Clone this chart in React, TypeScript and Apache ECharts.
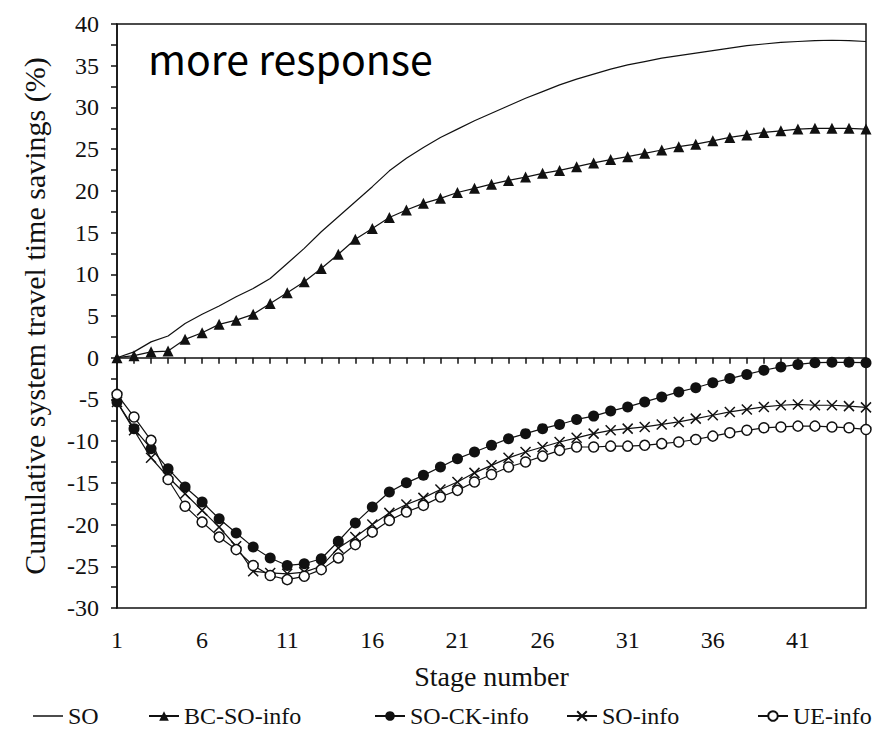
import React, { useEffect, useRef } from "react";
import * as echarts from "echarts";

const stages = Array.from({ length: 45 }, (_, i) => String(i + 1));

const soValues = [
  0, 0.7, 1.9, 2.6, 4.1, 5.2, 6.2, 7.3, 8.3, 9.5,
  11.3, 13.1, 15.1, 16.9, 18.7, 20.5, 22.4, 23.9, 25.2, 26.4,
  27.4, 28.4, 29.3, 30.2, 31.1, 31.9, 32.7, 33.4, 34.0, 34.6,
  35.1, 35.5, 35.9, 36.2, 36.5, 36.8, 37.1, 37.4, 37.6, 37.8,
  37.9, 38.0, 38.05, 38.0, 37.9,
];

const bcSoInfoValues = [
  0, 0.25, 0.7, 0.8, 2.2, 3.0, 4.0, 4.5, 5.2, 6.5,
  7.8, 9.1, 10.7, 12.4, 14.2, 15.5, 16.8, 17.7, 18.5, 19.1,
  19.8, 20.3, 20.8, 21.25, 21.65, 22.1, 22.45, 22.9, 23.35, 23.75,
  24.1, 24.5, 24.9, 25.3, 25.6, 26.0, 26.4, 26.7, 27.0, 27.2,
  27.4, 27.5, 27.5, 27.5, 27.4,
];

const soCkInfoValues = [
  -5.3, -8.5, -10.9, -13.3, -15.5, -17.3, -19.3, -21.0, -22.7, -24.0,
  -24.9, -24.7, -24.1, -22.0, -19.8, -17.9, -16.1, -15.0, -14.1, -13.1,
  -12.1, -11.3, -10.5, -9.7, -9.1, -8.5, -8.0, -7.4, -7.0, -6.4,
  -5.9, -5.3, -4.7, -4.1, -3.6, -3.0, -2.5, -2.0, -1.5, -1.1,
  -0.8, -0.6, -0.55, -0.55, -0.6,
];

const soInfoValues = [
  -5.3, -8.7, -12.0, -14.3, -16.3, -18.3, -20.3, -22.6, -25.6, -25.8,
  -25.9, -25.7, -25.0, -22.8, -21.5, -20.0, -18.6, -17.6, -16.8, -15.8,
  -14.9, -13.8, -12.9, -12.0, -11.3, -10.7, -10.1, -9.6, -9.1, -8.7,
  -8.5, -8.3, -8.0, -7.7, -7.3, -6.9, -6.5, -6.2, -5.9, -5.7,
  -5.6, -5.7, -5.7, -5.8, -5.95,
];

const ueInfoValues = [
  -4.4, -7.1, -9.9, -14.6, -17.8, -19.7, -21.5, -23.0, -24.9, -26.1,
  -26.6, -26.2, -25.4, -24.0, -22.4, -20.9, -19.5, -18.5, -17.7, -16.7,
  -15.9, -14.9, -14.0, -13.1, -12.5, -11.8, -11.1, -10.7, -10.7, -10.6,
  -10.6, -10.5, -10.3, -10.1, -9.8, -9.4, -9.0, -8.7, -8.4, -8.3,
  -8.2, -8.2, -8.3, -8.4, -8.6,
];

const seriesNames = ["SO", "BC-SO-info", "SO-CK-info", "SO-info", "UE-info"];
const legendLefts = [28, 143, 369, 561, 752];

const SERIF = "Liberation Serif, Times New Roman, serif";
const INK = "#111";

export default function App() {
  const ref = useRef<HTMLDivElement>(null);

  useEffect(() => {
    if (!ref.current) return;
    const chart = echarts.init(ref.current, null, { renderer: "svg" });

    const lineStyle = { color: INK, width: 1.2 };
    const crossPath = "path://M0 0L10 10M10 0L0 10";

    chart.setOption({
      animation: false,
      backgroundColor: "#fff",
      grid: {
        left: 117,
        right: 18,
        top: 24,
        bottom: 124,
        show: true,
        borderColor: INK,
        borderWidth: 1.5,
        backgroundColor: "transparent",
      },
      legend: seriesNames.map((n, i) => ({
        data: i === 0 ? [{ name: n, icon: "rect" }] : [n],
        left: legendLefts[i],
        top: 699,
        itemWidth: 30,
        itemHeight: i === 0 ? 1.5 : 12,
        itemGap: 0,
        textStyle: { fontFamily: SERIF, fontSize: 24, color: INK },
      })),
      xAxis: {
        type: "category",
        data: stages,
        boundaryGap: false,
        name: "Stage number",
        nameLocation: "middle",
        nameGap: 54,
        nameTextStyle: { fontFamily: SERIF, fontSize: 28, color: INK },
        axisLine: { lineStyle: { color: INK, width: 1.5 } },
        axisTick: { interval: 0, length: 6, lineStyle: { color: INK, width: 1.5 } },
        axisLabel: {
          interval: (idx: number) => idx % 5 === 0 && idx < 44,
          fontFamily: SERIF,
          fontSize: 24,
          color: INK,
          margin: 20,
        },
        splitLine: { show: false },
      },
      yAxis: {
        type: "value",
        min: -30,
        max: 40,
        interval: 2.5,
        name: "Cumulative system travel time savings (%)",
        nameLocation: "middle",
        nameGap: 68,
        nameTextStyle: { fontFamily: SERIF, fontSize: 30, color: INK },
        axisLine: { show: true, lineStyle: { color: INK, width: 1.5 } },
        axisTick: { show: true, length: 6, lineStyle: { color: INK, width: 1.5 } },
        axisLabel: {
          formatter: (v: number) => (v % 5 === 0 ? String(v) : ""),
          fontFamily: SERIF,
          fontSize: 24,
          color: INK,
          margin: 18,
        },
        splitLine: { show: false },
      },
      graphic: [
        {
          type: "text",
          left: 148,
          top: 36,
          style: {
            text: "more response",
            fontFamily: "Noto Sans CJK JP",
            fontSize: 41,
            fill: "#000",
          },
        },
      ],
      series: [
        {
          name: "SO",
          type: "line",
          data: soValues,
          symbol: "none",
          lineStyle,
          itemStyle: { color: INK },
        },
        {
          name: "BC-SO-info",
          type: "line",
          data: bcSoInfoValues,
          symbol: "triangle",
          symbolSize: 11,
          showAllSymbol: true,
          lineStyle,
          itemStyle: { color: INK },
        },
        {
          name: "SO-CK-info",
          type: "line",
          data: soCkInfoValues,
          symbol: "circle",
          symbolSize: 11,
          showAllSymbol: true,
          lineStyle,
          itemStyle: { color: INK },
        },
        {
          name: "SO-info",
          type: "line",
          data: soInfoValues,
          symbol: crossPath,
          symbolSize: 10,
          showAllSymbol: true,
          lineStyle,
          itemStyle: { color: INK, borderColor: INK, borderWidth: 1.5 },
        },
        {
          name: "UE-info",
          type: "line",
          data: ueInfoValues,
          symbol: "circle",
          symbolSize: 10,
          showAllSymbol: true,
          lineStyle,
          itemStyle: { color: "#fff", borderColor: INK, borderWidth: 1.5 },
        },
      ],
    });

    return () => chart.dispose();
  }, []);

  return (
    <div
      ref={ref}
      style={{ position: "fixed", left: 0, top: 0, width: 884, height: 732 }}
    />
  );
}
